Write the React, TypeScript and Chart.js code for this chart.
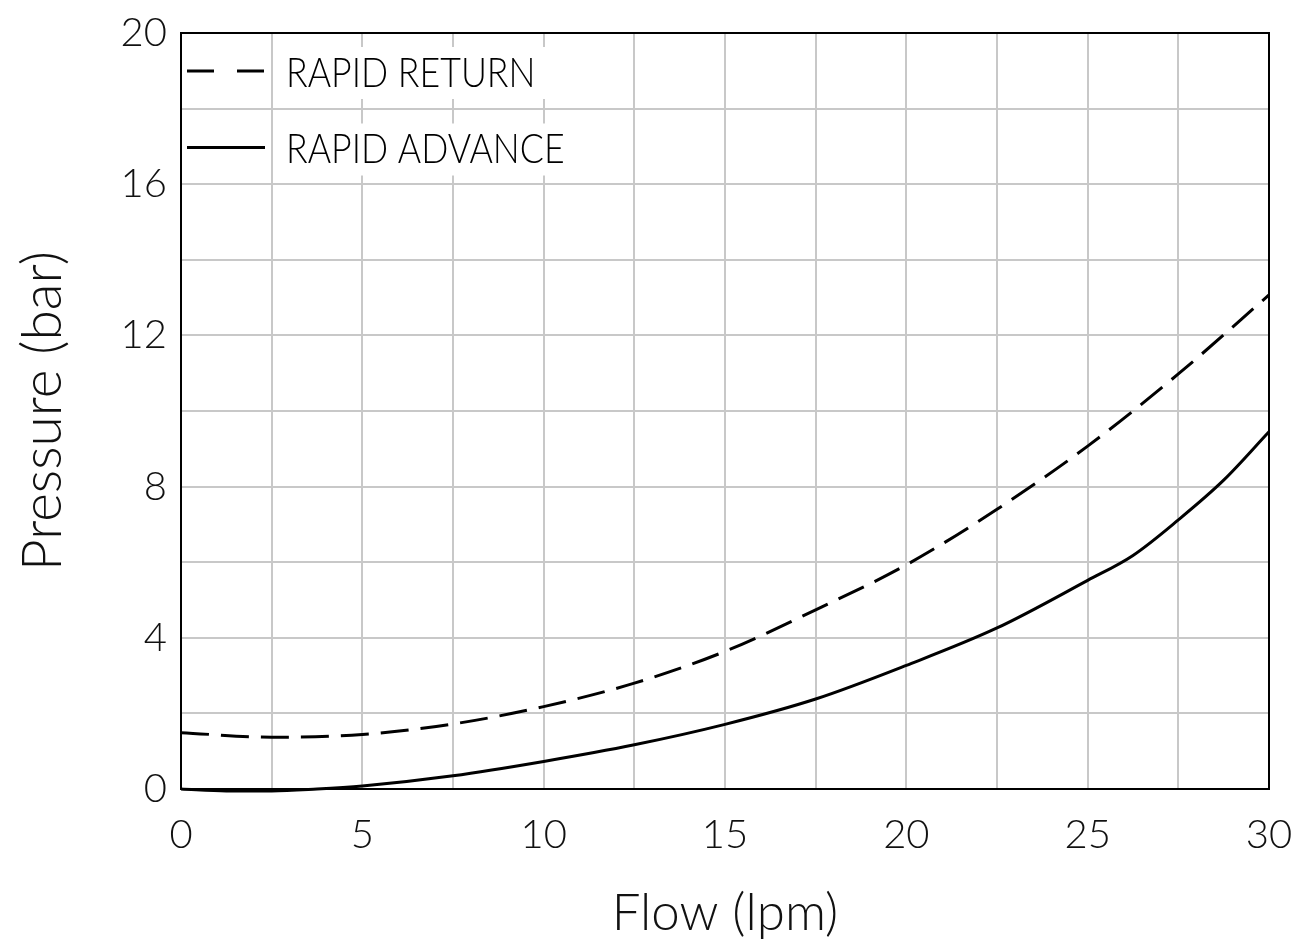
import React, { useEffect, useRef } from "react";
import { Chart, registerables } from "chart.js";

Chart.register(...registerables);

// ---- data ----
const flowReturn = [0, 2.5, 5, 7.5, 10, 12.5, 15, 17.5, 20, 22.5, 25, 27.5, 30];
const pressureReturn = [1.49, 1.37, 1.44, 1.72, 2.18, 2.8, 3.64, 4.74, 5.93, 7.4, 9.07, 10.98, 13.07];

const flowAdvance = [0, 1.25, 2.5, 3.75, 5, 7.5, 10, 12.5, 15, 17.5, 20, 22.5, 25, 26.25, 27.5, 28.75, 30];
const pressureAdvance = [0, -0.05, -0.05, 0.0, 0.08, 0.35, 0.73, 1.17, 1.71, 2.38, 3.27, 4.26, 5.52, 6.18, 7.12, 8.17, 9.45];

const seriesLabels = ["RAPID RETURN", "RAPID ADVANCE"];
const xTickLabels = [0, 5, 10, 15, 20, 25, 30];
const yTickLabels = [0, 4, 8, 12, 16, 20];
const xTitle = "Flow (lpm)";
const yTitle = "Pressure (bar)";

const FONT = "Lato";
const legendDashes = [[27, 23], []];

const frameAndLegend = {
  id: "frameAndLegend",
  beforeDatasetsDraw(chart: any) {
    const { ctx, chartArea } = chart;
    ctx.save();
    ctx.strokeStyle = "#000";
    ctx.lineWidth = 2;
    ctx.strokeRect(chartArea.left, chartArea.top, chartArea.right - chartArea.left, chartArea.bottom - chartArea.top);
    ctx.restore();
  },
  afterDatasetsDraw(chart: any) {
    const { ctx, chartArea } = chart;
    const sx = 0.85;
    ctx.save();
    ctx.font = `300 42px ${FONT}`;
    seriesLabels.forEach((label, i) => {
      const y = chartArea.top + 40 + i * 76.5;
      const tx = chartArea.left + 105;
      const w = ctx.measureText(label).width * sx;
      ctx.fillStyle = "#fff";
      ctx.fillRect(tx - 10, y - 26, w + 20, 52);
      ctx.strokeStyle = "#000";
      ctx.lineWidth = 3;
      ctx.setLineDash(legendDashes[i]);
      ctx.beginPath();
      ctx.moveTo(chartArea.left + 6, y - 2);
      ctx.lineTo(chartArea.left + 84, y - 2);
      ctx.stroke();
      ctx.setLineDash([]);
      ctx.fillStyle = "#000";
      ctx.textBaseline = "middle";
      ctx.textAlign = "left";
      ctx.save();
      ctx.translate(tx, y);
      ctx.scale(sx, 1);
      ctx.fillText(label, 0, 0);
      ctx.restore();
    });
    ctx.restore();
  },
};

export default function App() {
  const ref = useRef<HTMLCanvasElement>(null);

  useEffect(() => {
    const chart = new Chart(ref.current!, {
      type: "line",
      data: {
        datasets: [
          {
            label: seriesLabels[0],
            data: flowReturn.map((x, i) => ({ x, y: pressureReturn[i] })),
            borderColor: "#000",
            borderWidth: 3,
            borderDash: [28, 12],
            pointRadius: 0,
            cubicInterpolationMode: "monotone",
            fill: false,
            clip: 6,
          },
          {
            label: seriesLabels[1],
            data: flowAdvance.map((x, i) => ({ x, y: pressureAdvance[i] })),
            borderColor: "#000",
            borderWidth: 3,
            pointRadius: 0,
            cubicInterpolationMode: "monotone",
            fill: false,
            clip: 6,
          },
        ],
      },
      options: {
        responsive: false,
        animation: false,
        layout: { padding: { top: 33, right: 31, left: 0, bottom: 0 } },
        plugins: { legend: { display: false }, tooltip: { enabled: false } },
        scales: {
          x: {
            type: "linear",
            min: 0,
            max: 30,
            afterFit: (s: any) => {
              s.height = 155;
              s.paddingLeft = 0;
              s.paddingRight = 0;
            },
            grid: { color: "#c8c8c8", lineWidth: 2, drawTicks: false },
            border: { display: false },
            ticks: {
              stepSize: 2.5,
              autoSkip: false,
              maxRotation: 0,
              padding: 22,
              color: "#111",
              font: { family: FONT, size: 40, weight: "300" },
              callback: (v: any) => (xTickLabels.includes(Number(v)) ? String(v) : ""),
            },
            title: {
              display: true,
              text: xTitle,
              color: "#111",
              font: { family: FONT, size: 51, weight: "300", lineHeight: 1 },
              padding: { top: 0, bottom: 5 },
            },
          },
          y: {
            type: "linear",
            min: 0,
            max: 20,
            afterFit: (s: any) => {
              s.width = 181;
              s.paddingTop = 0;
              s.paddingBottom = 0;
            },
            grid: { color: "#c8c8c8", lineWidth: 2, drawTicks: false },
            border: { display: false },
            ticks: {
              stepSize: 2,
              autoSkip: false,
              padding: 14,
              color: "#111",
              font: { family: FONT, size: 40, weight: "300" },
              callback: (v: any) => (yTickLabels.includes(Number(v)) ? String(v) : ""),
            },
            title: {
              display: true,
              text: yTitle,
              color: "#111",
              font: { family: FONT, size: 55, weight: "300", lineHeight: 1 },
              padding: { top: 16, bottom: 0 },
            },
          },
        },
      },
      plugins: [frameAndLegend],
    } as any);
    return () => chart.destroy();
  }, []);

  return (
    <div style={{ position: "fixed", left: 0, top: 0, width: 1300, height: 944, background: "#fff" }}>
      <canvas ref={ref} width={1300} height={944} style={{ width: 1300, height: 944, display: "block" }} />
    </div>
  );
}
